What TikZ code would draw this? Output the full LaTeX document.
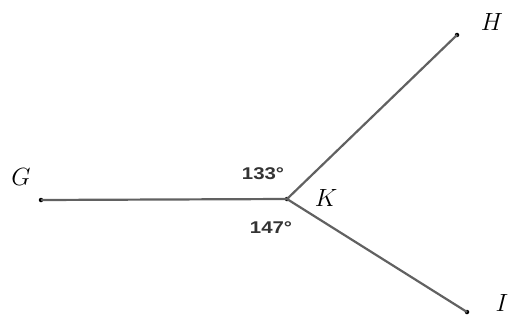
\documentclass[tikz,border=0pt]{standalone}
\usepackage{fontspec}
\newfontfamily\degfont{Liberation Sans}
\begin{document}
\begin{tikzpicture}[x=1pt,y=-1pt,
  seg/.style={draw=black!62, line width=2.2pt},
  dotpt/.style={circle, fill=black, inner sep=0pt, minimum size=4.5pt},
  ptlabel/.style={font=\fontsize{25}{28}\selectfont, inner sep=0pt},
  anglabel/.style={font=\degfont\bfseries\fontsize{17}{19}\selectfont, inner sep=0pt, xscale=1.2, text=black!80}]
\useasboundingbox (0,0) rectangle (510,321);
\node[dotpt] (G) at (41,200) {};
\node[dotpt] (K) at (287,199) {};
\node[dotpt] (H) at (457,35) {};
\node[dotpt] (I) at (467,312) {};
\draw[seg] (G.center) -- (K.center);
\draw[seg] (K.center) -- (H.center);
\draw[seg] (K.center) -- (I.center);
\node[ptlabel] (lG) at (21,177) {$G$};
\node[ptlabel] (lK) at (326,198) {$K$};
\node[ptlabel] (lH) at (492,22) {$H$};
\node[ptlabel] (lI) at (502,303) {$I$};
\node[anglabel] (a1) at (263,174) {133°};
\node[anglabel] (a2) at (271,228) {147°};
\end{tikzpicture}
\end{document}
